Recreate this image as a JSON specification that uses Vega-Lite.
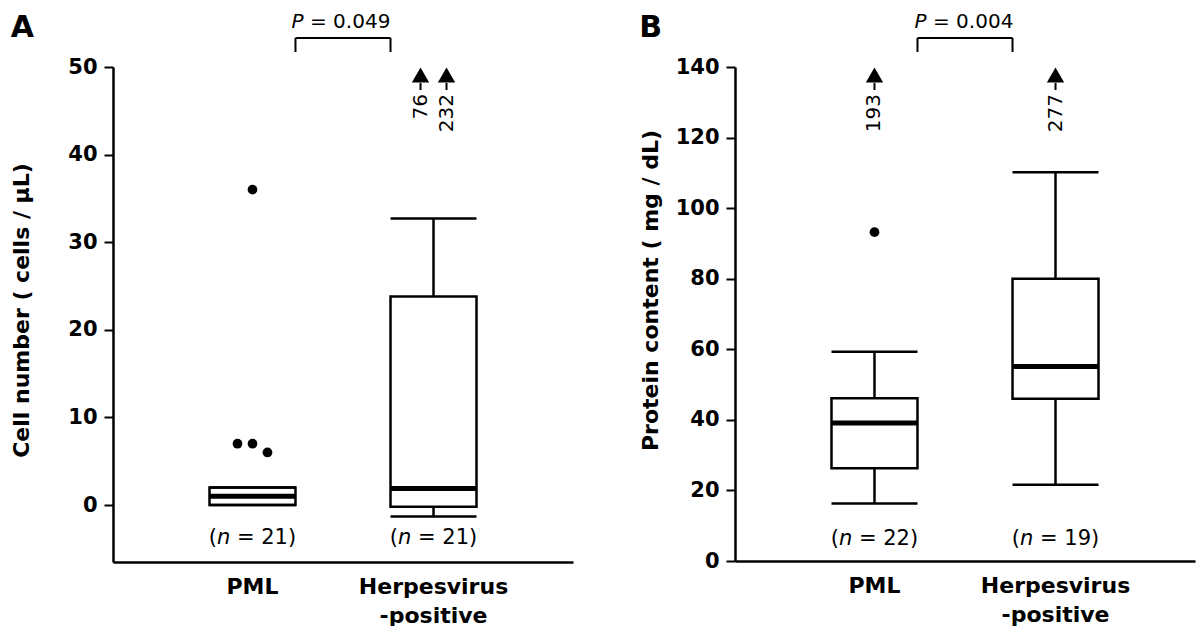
{
  "$schema": "https://vega.github.io/schema/vega-lite/v6.json",
  "padding": {"left": 10, "top": 12, "right": 5, "bottom": 0},
  "background": "white",
  "config": {
    "view": {"stroke": null},
    "font": "DejaVu Sans",
    "locale": {"number": {"decimal": ".", "thousands": ",", "grouping": [3], "currency": ["= ", ")"]}},
    "axis": {
      "grid": false,
      "domainColor": "black", "domainWidth": 2.5,
      "tickColor": "black", "tickWidth": 2, "tickSize": 9,
      "labelColor": "black", "labelFont": "DejaVu Sans", "labelFontSize": 21, "labelFontWeight": "bold",
      "titleColor": "black", "titleFont": "DejaVu Sans", "titleFontSize": 22, "titleFontWeight": "bold"
    },
    "text": {"color": "black", "font": "DejaVu Sans"},
    "title": {"color": "black", "font": "DejaVu Sans", "fontSize": 30, "fontWeight": "bold", "anchor": "start", "frame": "bounds"}
  },
  "datasets": {
    "boxA": [
      {"group": "PML", "min": 0, "q1": 0, "median": 1, "q3": 2, "max": 2},
      {"group": "Herpesvirus-positive", "min": -1.3, "q1": -0.2, "median": 1.9, "q3": 23.8, "max": 32.7}
    ],
    "outA": [
      {"group": "PML", "slot": "L", "value": 7},
      {"group": "PML", "slot": "M", "value": 7},
      {"group": "PML", "slot": "R", "value": 6},
      {"group": "PML", "slot": "M", "value": 36}
    ],
    "offA": [
      {"group": "Herpesvirus-positive", "slot": "L", "value": 76},
      {"group": "Herpesvirus-positive", "slot": "R", "value": 232}
    ],
    "nA": [
      {"group": "PML", "n": 21},
      {"group": "Herpesvirus-positive", "n": 21}
    ],
    "pA": [{"ptext": "= 0.049"}],
    "boxB": [
      {"group": "PML", "min": 16.3, "q1": 26.3, "median": 39.1, "q3": 46.1, "max": 59.3},
      {"group": "Herpesvirus-positive", "min": 21.6, "q1": 46.0, "median": 55.1, "q3": 80.0, "max": 110.2}
    ],
    "outB": [
      {"group": "PML", "slot": "M", "value": 93.2}
    ],
    "offB": [
      {"group": "PML", "slot": "M", "value": 193},
      {"group": "Herpesvirus-positive", "slot": "M", "value": 277}
    ],
    "nB": [
      {"group": "PML", "n": 22},
      {"group": "Herpesvirus-positive", "n": 19}
    ],
    "pB": [{"ptext": "= 0.004"}]
  },
  "spacing": 66,
  "hconcat": [
    {
      "width": 460,
      "height": 495,
      "title": {"text": "A", "baseline": "alphabetic", "offset": -55},
      "encoding": {
        "x": {
          "field": "group", "type": "nominal",
          "scale": {"type": "band", "domain": ["PML", "Herpesvirus-positive"], "paddingInner": 0.525, "paddingOuter": 0.533},
          "axis": {"title": null, "ticks": false, "labelAngle": 0, "labelPadding": 14, "labelLineHeight": 29, "labelBaseline": "top", "labelFontSize": 22,
                   "labelExpr": "datum.label == 'Herpesvirus-positive' ? ['Herpesvirus', '-positive'] : datum.label"}
        }
      },
      "layer": [
        {
          "data": {"name": "boxA"},
          "mark": {"type": "rule", "color": "black", "strokeWidth": 2.5},
          "encoding": {
            "y": {"field": "min", "type": "quantitative", "title": "Cell number  ( cells / μL)",
                  "scale": {"domain": [-6.5, 50], "nice": false, "zero": false},
                  "axis": {"values": [0, 10, 20, 30, 40, 50], "labelPadding": 7, "titlePadding": 34, "titleY": 243}},
            "y2": {"field": "max"}
          }
        },
        {
          "data": {"name": "boxA"},
          "mark": {"type": "bar", "fill": "white", "stroke": "black", "strokeWidth": 2.5},
          "encoding": {
            "y": {"field": "q1", "type": "quantitative", "title": "Cell number  ( cells / μL)"},
            "y2": {"field": "q3"}
          }
        },
        {
          "data": {"name": "boxA"},
          "mark": {"type": "tick", "color": "black", "thickness": 5, "size": 86, "opacity": 1},
          "encoding": {"y": {"field": "median", "type": "quantitative", "title": "Cell number  ( cells / μL)"}}
        },
        {
          "data": {"name": "boxA"},
          "mark": {"type": "tick", "color": "black", "thickness": 2.5, "size": 86, "opacity": 1},
          "encoding": {"y": {"field": "min", "type": "quantitative", "title": "Cell number  ( cells / μL)"}}
        },
        {
          "data": {"name": "boxA"},
          "mark": {"type": "tick", "color": "black", "thickness": 2.5, "size": 86, "opacity": 1},
          "encoding": {"y": {"field": "max", "type": "quantitative", "title": "Cell number  ( cells / μL)"}}
        },
        {
          "data": {"name": "outA"},
          "transform": [{"filter": "datum.slot == 'L'"}],
          "mark": {"type": "point", "shape": "circle", "filled": true, "color": "black", "size": 95, "opacity": 1, "xOffset": -15},
          "encoding": {"y": {"field": "value", "type": "quantitative", "title": "Cell number  ( cells / μL)"}}
        },
        {
          "data": {"name": "outA"},
          "transform": [{"filter": "datum.slot == 'M'"}],
          "mark": {"type": "point", "shape": "circle", "filled": true, "color": "black", "size": 95, "opacity": 1},
          "encoding": {"y": {"field": "value", "type": "quantitative", "title": "Cell number  ( cells / μL)"}}
        },
        {
          "data": {"name": "outA"},
          "transform": [{"filter": "datum.slot == 'R'"}],
          "mark": {"type": "point", "shape": "circle", "filled": true, "color": "black", "size": 95, "opacity": 1, "xOffset": 15},
          "encoding": {"y": {"field": "value", "type": "quantitative", "title": "Cell number  ( cells / μL)"}}
        },
        {
          "data": {"name": "offA"},
          "transform": [{"filter": "datum.slot == 'L'"}],
          "mark": {"type": "point", "shape": "triangle-up", "filled": true, "color": "black", "size": 300, "opacity": 1, "xOffset": -13},
          "encoding": {"y": {"datum": 49.09, "type": "quantitative"}}
        },
        {
          "data": {"name": "offA"},
          "transform": [{"filter": "datum.slot == 'R'"}],
          "mark": {"type": "point", "shape": "triangle-up", "filled": true, "color": "black", "size": 300, "opacity": 1, "xOffset": 13},
          "encoding": {"y": {"datum": 49.09, "type": "quantitative"}}
        },
        {
          "data": {"name": "offA"},
          "transform": [{"filter": "datum.slot == 'L'"}],
          "mark": {"type": "rule", "color": "black", "strokeWidth": 2, "xOffset": -13},
          "encoding": {"y": {"datum": 48.17, "type": "quantitative"}, "y2": {"datum": 47.37}}
        },
        {
          "data": {"name": "offA"},
          "transform": [{"filter": "datum.slot == 'R'"}],
          "mark": {"type": "rule", "color": "black", "strokeWidth": 2, "xOffset": 13},
          "encoding": {"y": {"datum": 48.17, "type": "quantitative"}, "y2": {"datum": 47.37}}
        },
        {
          "data": {"name": "offA"},
          "transform": [{"filter": "datum.slot == 'L'"}],
          "mark": {"type": "text", "angle": 270, "align": "right", "baseline": "middle", "fontSize": 20, "xOffset": -13},
          "encoding": {"y": {"datum": 46.92, "type": "quantitative"}, "text": {"field": "value", "type": "quantitative"}}
        },
        {
          "data": {"name": "offA"},
          "transform": [{"filter": "datum.slot == 'R'"}],
          "mark": {"type": "text", "angle": 270, "align": "right", "baseline": "middle", "fontSize": 20, "xOffset": 13},
          "encoding": {"y": {"datum": 46.92, "type": "quantitative"}, "text": {"field": "value", "type": "quantitative"}}
        },
        {
          "data": {"name": "nA"},
          "mark": {"type": "text", "text": "(", "align": "left", "baseline": "alphabetic", "fontSize": 21, "dx": -43.7},
          "encoding": {"y": {"datum": -4.45, "type": "quantitative"}}
        },
        {
          "data": {"name": "nA"},
          "mark": {"type": "text", "text": "n", "fontStyle": "italic", "align": "left", "baseline": "alphabetic", "fontSize": 21, "dx": -35.5},
          "encoding": {"y": {"datum": -4.45, "type": "quantitative"}}
        },
        {
          "data": {"name": "nA"},
          "mark": {"type": "text", "align": "left", "baseline": "alphabetic", "fontSize": 21, "dx": -15.5},
          "encoding": {"y": {"datum": -4.45, "type": "quantitative"}, "text": {"field": "n", "type": "quantitative", "format": "$d"}}
        },
        {
          "data": {"name": "pA"},
          "mark": {"type": "rule", "color": "black", "strokeWidth": 2},
          "encoding": {
            "x": {"datum": "PML", "bandPosition": 1},
            "x2": {"datum": "Herpesvirus-positive", "bandPosition": 0},
            "y": {"datum": 53.31, "type": "quantitative"}
          }
        },
        {
          "data": {"name": "pA"},
          "mark": {"type": "rule", "color": "black", "strokeWidth": 2},
          "encoding": {
            "x": {"datum": "PML", "bandPosition": 1},
            "y": {"datum": 53.31, "type": "quantitative"},
            "y2": {"datum": 51.71}
          }
        },
        {
          "data": {"name": "pA"},
          "mark": {"type": "rule", "color": "black", "strokeWidth": 2},
          "encoding": {
            "x": {"datum": "Herpesvirus-positive", "bandPosition": 0},
            "y": {"datum": 53.31, "type": "quantitative"},
            "y2": {"datum": 51.71}
          }
        },
        {
          "data": {"name": "pA"},
          "mark": {"type": "text", "text": "P", "fontStyle": "italic", "align": "left", "baseline": "alphabetic", "fontSize": 20, "dx": -4},
          "encoding": {
            "x": {"datum": "PML", "bandPosition": 1},
            "y": {"datum": 54.45, "type": "quantitative"}
          }
        },
        {
          "data": {"name": "pA"},
          "mark": {"type": "text", "align": "left", "baseline": "alphabetic", "fontSize": 20, "dx": 14.5},
          "encoding": {
            "x": {"datum": "PML", "bandPosition": 1},
            "y": {"datum": 54.45, "type": "quantitative"},
            "text": {"field": "ptext", "type": "nominal"}
          }
        }
      ]
    },
    {
      "width": 460,
      "height": 494,
      "title": {"text": "B", "baseline": "alphabetic", "offset": -55},
      "encoding": {
        "x": {
          "field": "group", "type": "nominal",
          "scale": {"type": "band", "domain": ["PML", "Herpesvirus-positive"], "paddingInner": 0.525, "paddingOuter": 0.533},
          "axis": {"title": null, "ticks": false, "labelAngle": 0, "labelPadding": 14, "labelLineHeight": 29, "labelBaseline": "top", "labelFontSize": 22,
                   "labelExpr": "datum.label == 'Herpesvirus-positive' ? ['Herpesvirus', '-positive'] : datum.label"}
        }
      },
      "layer": [
        {
          "data": {"name": "boxB"},
          "mark": {"type": "rule", "color": "black", "strokeWidth": 2.5},
          "encoding": {
            "y": {"field": "min", "type": "quantitative", "title": "Protein content ( mg / dL)",
                  "scale": {"domain": [0, 140], "nice": false, "zero": false},
                  "axis": {"values": [0, 20, 40, 60, 80, 100, 120, 140], "labelPadding": 7, "titlePadding": 13, "titleY": 223}},
            "y2": {"field": "max"}
          }
        },
        {
          "data": {"name": "boxB"},
          "mark": {"type": "bar", "fill": "white", "stroke": "black", "strokeWidth": 2.5},
          "encoding": {
            "y": {"field": "q1", "type": "quantitative", "title": "Protein content ( mg / dL)"},
            "y2": {"field": "q3"}
          }
        },
        {
          "data": {"name": "boxB"},
          "mark": {"type": "tick", "color": "black", "thickness": 5, "size": 86, "opacity": 1},
          "encoding": {"y": {"field": "median", "type": "quantitative", "title": "Protein content ( mg / dL)"}}
        },
        {
          "data": {"name": "boxB"},
          "mark": {"type": "tick", "color": "black", "thickness": 2.5, "size": 86, "opacity": 1},
          "encoding": {"y": {"field": "min", "type": "quantitative", "title": "Protein content ( mg / dL)"}}
        },
        {
          "data": {"name": "boxB"},
          "mark": {"type": "tick", "color": "black", "thickness": 2.5, "size": 86, "opacity": 1},
          "encoding": {"y": {"field": "max", "type": "quantitative", "title": "Protein content ( mg / dL)"}}
        },
        {
          "data": {"name": "outB"},
          "mark": {"type": "point", "shape": "circle", "filled": true, "color": "black", "size": 95, "opacity": 1},
          "encoding": {"y": {"field": "value", "type": "quantitative", "title": "Protein content ( mg / dL)"}}
        },
        {
          "data": {"name": "offB"},
          "mark": {"type": "point", "shape": "triangle-up", "filled": true, "color": "black", "size": 300, "opacity": 1},
          "encoding": {"y": {"datum": 137.73, "type": "quantitative"}}
        },
        {
          "data": {"name": "offB"},
          "mark": {"type": "rule", "color": "black", "strokeWidth": 2},
          "encoding": {"y": {"datum": 135.47, "type": "quantitative"}, "y2": {"datum": 133.48}}
        },
        {
          "data": {"name": "offB"},
          "mark": {"type": "text", "angle": 270, "align": "right", "baseline": "middle", "fontSize": 20},
          "encoding": {"y": {"datum": 132.35, "type": "quantitative"}, "text": {"field": "value", "type": "quantitative"}}
        },
        {
          "data": {"name": "nB"},
          "mark": {"type": "text", "text": "(", "align": "left", "baseline": "alphabetic", "fontSize": 21, "dx": -43.7},
          "encoding": {"y": {"datum": 4.53, "type": "quantitative"}}
        },
        {
          "data": {"name": "nB"},
          "mark": {"type": "text", "text": "n", "fontStyle": "italic", "align": "left", "baseline": "alphabetic", "fontSize": 21, "dx": -35.5},
          "encoding": {"y": {"datum": 4.53, "type": "quantitative"}}
        },
        {
          "data": {"name": "nB"},
          "mark": {"type": "text", "align": "left", "baseline": "alphabetic", "fontSize": 21, "dx": -15.5},
          "encoding": {"y": {"datum": 4.53, "type": "quantitative"}, "text": {"field": "n", "type": "quantitative", "format": "$d"}}
        },
        {
          "data": {"name": "pB"},
          "mark": {"type": "rule", "color": "black", "strokeWidth": 2},
          "encoding": {
            "x": {"datum": "PML", "bandPosition": 1},
            "x2": {"datum": "Herpesvirus-positive", "bandPosition": 0},
            "y": {"datum": 148.22, "type": "quantitative"}
          }
        },
        {
          "data": {"name": "pB"},
          "mark": {"type": "rule", "color": "black", "strokeWidth": 2},
          "encoding": {
            "x": {"datum": "PML", "bandPosition": 1},
            "y": {"datum": 148.22, "type": "quantitative"},
            "y2": {"datum": 144.25}
          }
        },
        {
          "data": {"name": "pB"},
          "mark": {"type": "rule", "color": "black", "strokeWidth": 2},
          "encoding": {
            "x": {"datum": "Herpesvirus-positive", "bandPosition": 0},
            "y": {"datum": 148.22, "type": "quantitative"},
            "y2": {"datum": 144.25}
          }
        },
        {
          "data": {"name": "pB"},
          "mark": {"type": "text", "text": "P", "fontStyle": "italic", "align": "left", "baseline": "alphabetic", "fontSize": 20, "dx": -3},
          "encoding": {
            "x": {"datum": "PML", "bandPosition": 1},
            "y": {"datum": 151.05, "type": "quantitative"}
          }
        },
        {
          "data": {"name": "pB"},
          "mark": {"type": "text", "align": "left", "baseline": "alphabetic", "fontSize": 20, "dx": 15.5},
          "encoding": {
            "x": {"datum": "PML", "bandPosition": 1},
            "y": {"datum": 151.05, "type": "quantitative"},
            "text": {"field": "ptext", "type": "nominal"}
          }
        }
      ]
    }
  ]
}
